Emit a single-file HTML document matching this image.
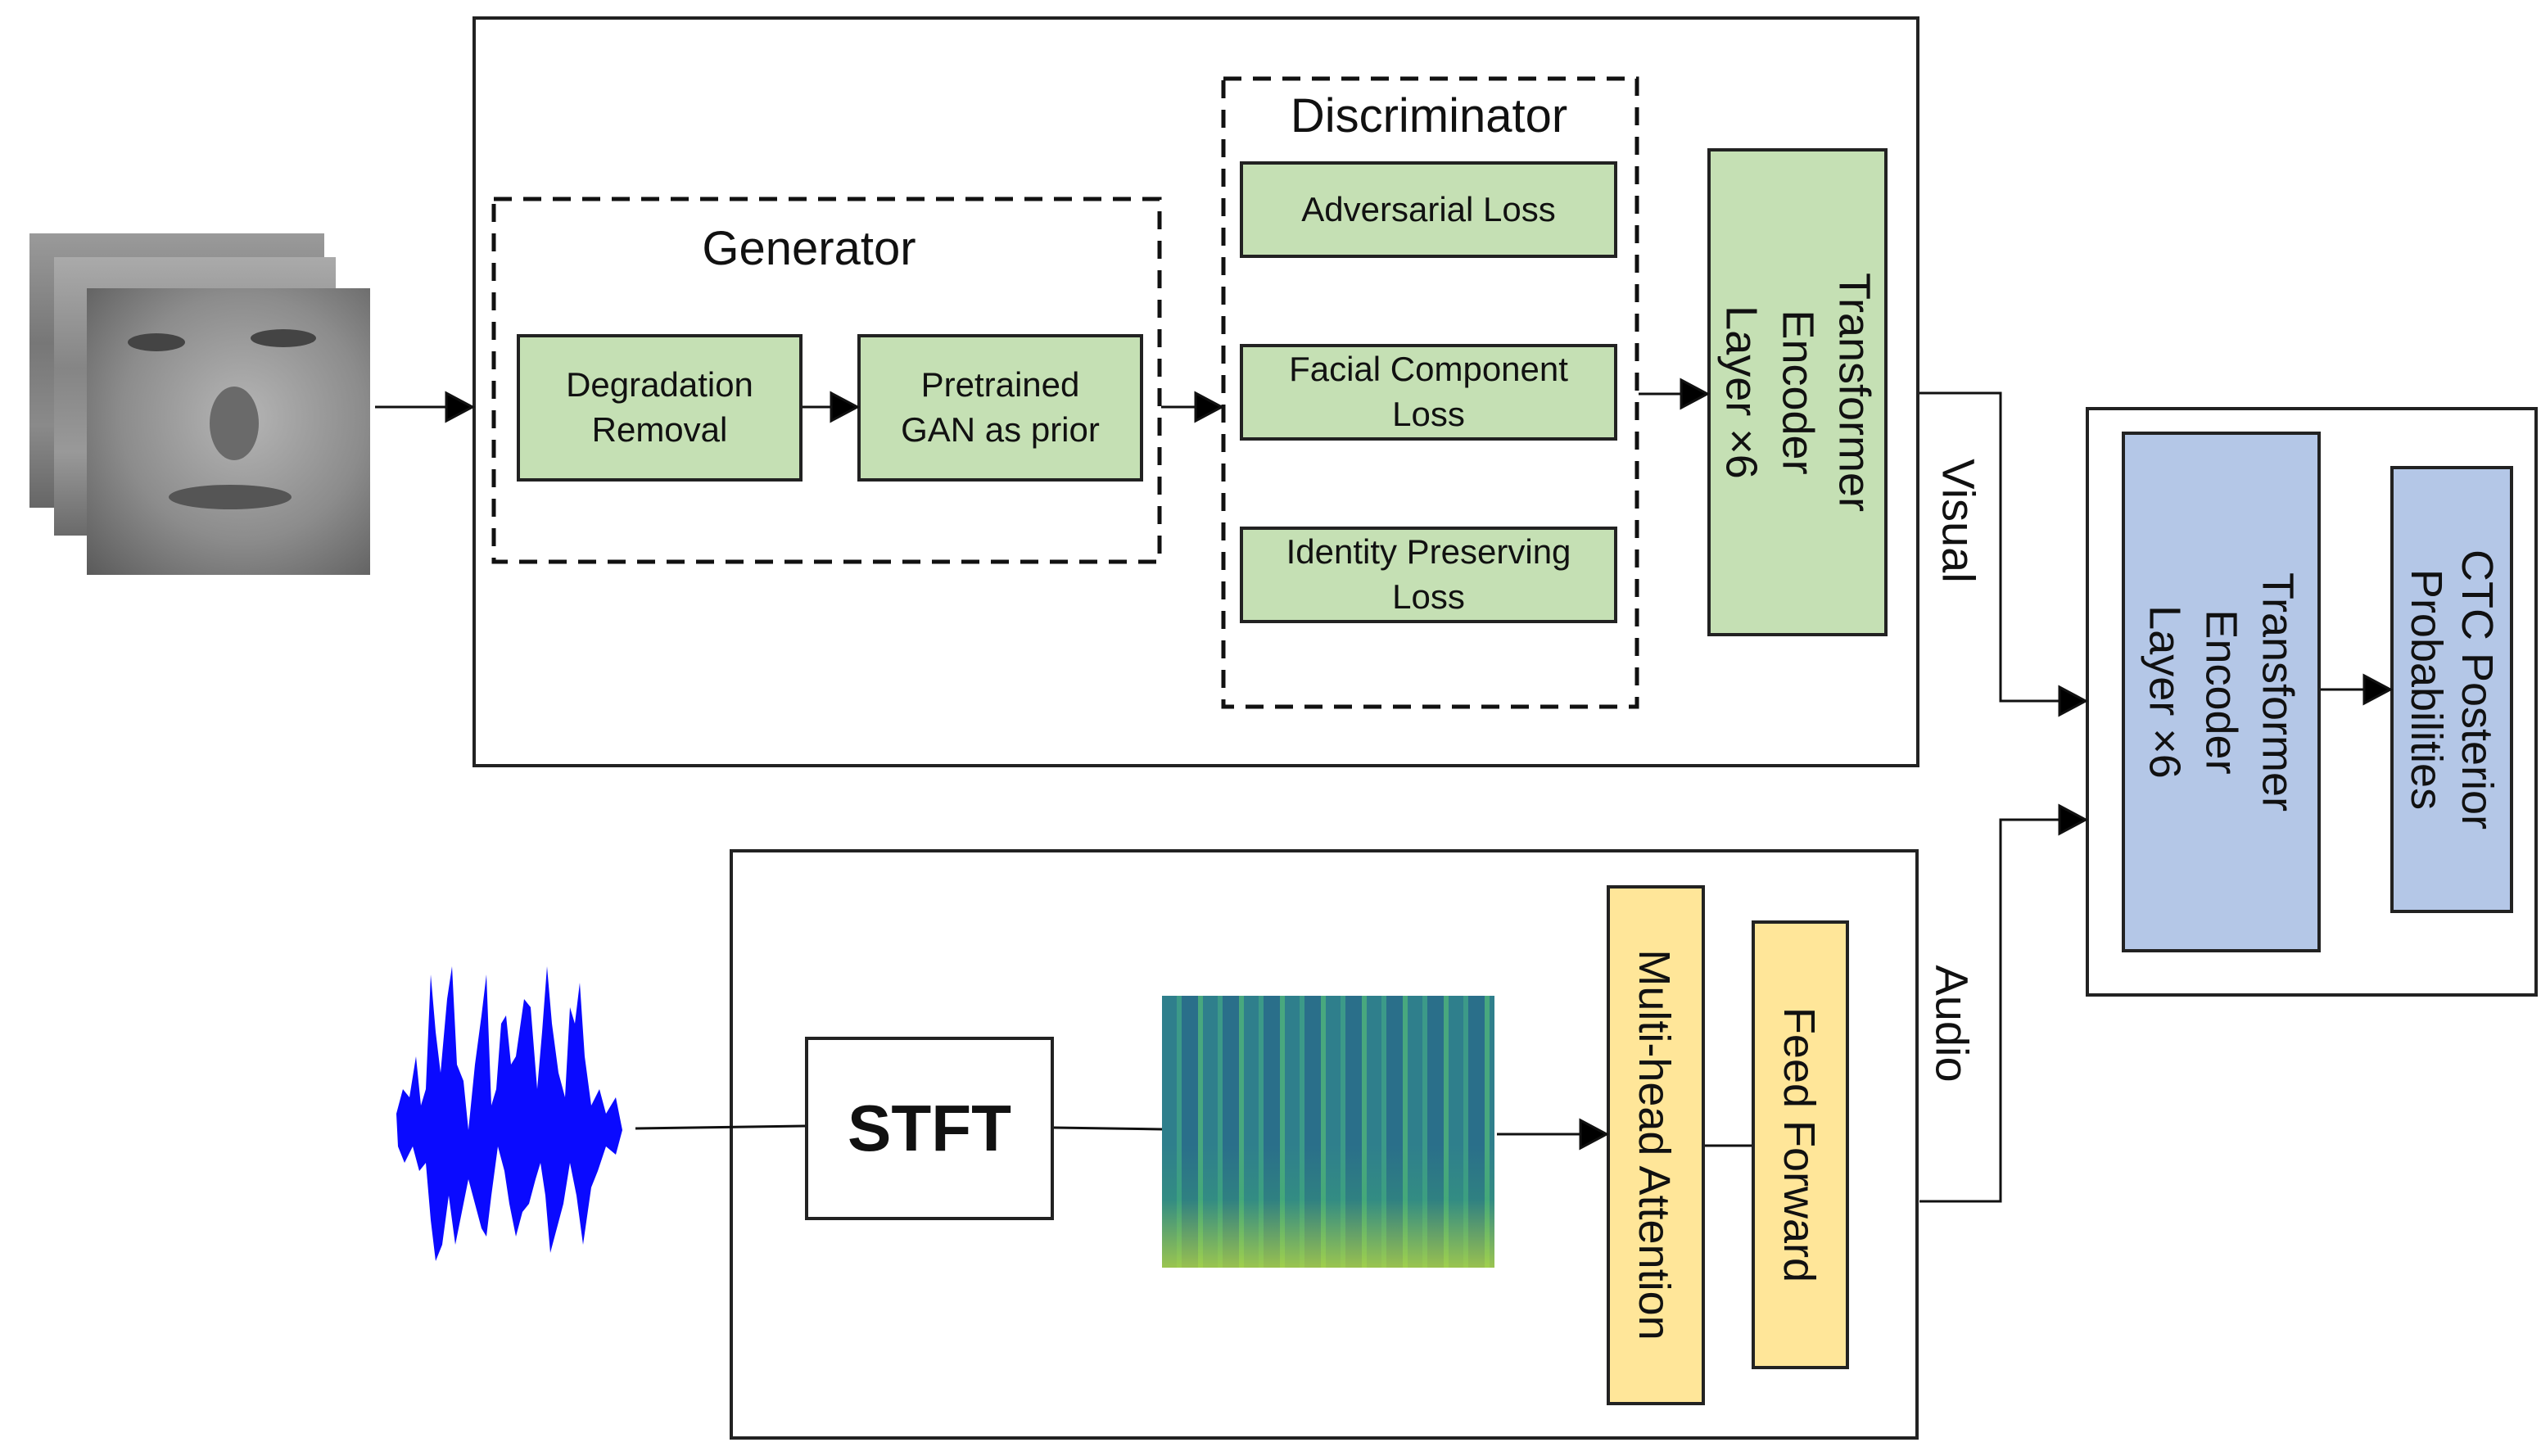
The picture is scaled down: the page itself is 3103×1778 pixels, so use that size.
<!DOCTYPE html>
<html><head><meta charset="utf-8"><style>
body{margin:0;width:3103px;height:1778px;background:#fff;position:relative;overflow:hidden;font-family:"Liberation Sans",sans-serif;color:#111}
.a{position:absolute;box-sizing:border-box}
.g{background:#c5e0b4;border:4px solid #222;display:flex;align-items:center;justify-content:center;text-align:center;font-size:42px;line-height:1.3}
.rot{position:absolute;transform:translate(-50%,-50%) rotate(90deg);white-space:nowrap;text-align:center}
</style></head><body>
<!-- faces -->
<div class="a" style="left:36px;top:285px;width:360px;height:335px;background:linear-gradient(180deg,#9a9a9a,#777 40%,#8a8a8a 70%,#666)"></div>
<div class="a" style="left:66px;top:314px;width:344px;height:340px;background:linear-gradient(180deg,#aaa,#858585 40%,#999 70%,#6a6a6a)"></div>
<div class="a" style="left:106px;top:352px;width:346px;height:350px;background:radial-gradient(ellipse at 55% 45%,#b5b5b5,#8c8c8c 55%,#5a5a5a)">
<div class="a" style="left:50px;top:55px;width:70px;height:22px;border-radius:50%;background:#444"></div>
<div class="a" style="left:200px;top:50px;width:80px;height:22px;border-radius:50%;background:#444"></div>
<div class="a" style="left:150px;top:120px;width:60px;height:90px;border-radius:50%;background:#6a6a6a"></div>
<div class="a" style="left:100px;top:240px;width:150px;height:30px;border-radius:50%;background:#555"></div>
</div>

<!-- visual box -->
<div class="a" style="left:577px;top:20px;width:1767px;height:917px;border:4px solid #222"></div>
<div class="a" style="left:803px;top:270px;width:370px;text-align:center;font-size:58px">Generator</div>
<div class="a g" style="left:631px;top:408px;width:349px;height:180px">Degradation<br>Removal</div>
<div class="a g" style="left:1047px;top:408px;width:349px;height:180px">Pretrained<br>GAN as prior</div>
<div class="a" style="left:1500px;top:108px;width:490px;text-align:center;font-size:58px">Discriminator</div>
<div class="a g" style="left:1514px;top:197px;width:461px;height:118px">Adversarial Loss</div>
<div class="a g" style="left:1514px;top:420px;width:461px;height:118px">Facial Component<br>Loss</div>
<div class="a g" style="left:1514px;top:643px;width:461px;height:118px">Identity Preserving<br>Loss</div>
<div class="a g" style="left:2085px;top:181px;width:220px;height:596px;"></div>
<div class="rot" style="left:2195px;top:479px;font-size:54px;line-height:1.28">Transformer<br>Encoder<br>Layer ×6</div>
<div class="rot" style="left:2392px;top:636px;font-size:56px">Visual</div>

<!-- right box -->
<div class="a" style="left:2547px;top:497px;width:552px;height:720px;border:4px solid #222"></div>
<div class="a g" style="left:2591px;top:527px;width:243px;height:636px;background:#b4c7e7"></div>
<div class="rot" style="left:2712px;top:845px;font-size:54px;line-height:1.28">Transformer<br>Encoder<br>Layer ×6</div>
<div class="a g" style="left:2919px;top:569px;width:150px;height:546px;background:#b4c7e7"></div>
<div class="rot" style="left:2994px;top:842px;font-size:54px;line-height:1.15">CTC Posterior<br>Probabilities</div>

<!-- audio box -->
<div class="a" style="left:891px;top:1037px;width:1452px;height:721px;border:4px solid #222"></div>
<div class="a" style="left:983px;top:1266px;width:304px;height:224px;border:4px solid #222;display:flex;align-items:center;justify-content:center;font-weight:bold;font-size:80px">STFT</div>
<div class="a" style="left:1419px;top:1216px;width:406px;height:332px;background:linear-gradient(0deg,rgba(190,220,60,.75),rgba(60,170,110,.3) 25%,rgba(0,0,0,0) 45%),repeating-linear-gradient(90deg,#2f7f8c 0 18px,#3c9a88 18px 24px,#2a6f8a 24px 44px,#48a87e 44px 50px),#2e7a8c"></div>
<div class="a g" style="left:1962px;top:1081px;width:120px;height:635px;background:#ffe699"></div>
<div class="rot" style="left:2020px;top:1398px;font-size:54px">Multi-head Attention</div>
<div class="a g" style="left:2139px;top:1124px;width:119px;height:548px;background:#ffe699"></div>
<div class="rot" style="left:2197px;top:1398px;font-size:54px">Feed Forward</div>
<div class="rot" style="left:2384px;top:1250px;font-size:56px">Audio</div>

<svg class="a" style="left:0;top:0" width="3103" height="1778">
<g stroke="#111" stroke-width="5" fill="none" stroke-dasharray="22 14">
<rect x="603" y="243" width="813" height="443"/>
<rect x="1494" y="96" width="505" height="767"/>
</g>
<g stroke="#111" stroke-width="3" fill="none">
<line x1="458" y1="497" x2="550" y2="497"/><path d="M545,480L577,497L545,514z" fill="#000"/>
<line x1="980" y1="497" x2="1020" y2="497"/><path d="M1015,480L1047,497L1015,514z" fill="#000"/>
<line x1="1418" y1="497" x2="1465" y2="497"/><path d="M1460,480L1492,497L1460,514z" fill="#000"/>
<line x1="2001" y1="481" x2="2058" y2="481"/><path d="M2053,464L2085,481L2053,498z" fill="#000"/>
<polyline points="2344,480 2443,480 2443,856 2520,856"/><path d="M2515,839L2547,856L2515,873z" fill="#000"/>
<polyline points="2344,1467 2443,1467 2443,1001 2520,1001"/><path d="M2515,984L2547,1001L2515,1018z" fill="#000"/>
<line x1="2834" y1="842" x2="2892" y2="842"/><path d="M2887,825L2919,842L2887,859z" fill="#000"/>
<line x1="776" y1="1378" x2="983" y2="1375"/>
<line x1="1287" y1="1377" x2="1419" y2="1379"/>
<line x1="1828" y1="1385" x2="1935" y2="1385"/><path d="M1930,1368L1962,1385L1930,1402z" fill="#000"/>
<line x1="2082" y1="1399" x2="2139" y2="1399"/>
</g>
<path fill="#0a0aff" d="M484,1360 L492,1330 L500,1340 L508,1290 L514,1350 L520,1330 L526,1190 L532,1260 L538,1310 L546,1220 L552,1180 L558,1300 L566,1320 L572,1380 L580,1300 L588,1240 L594,1190 L600,1350 L606,1330 L612,1250 L618,1240 L624,1300 L630,1290 L640,1220 L648,1230 L656,1330 L662,1260 L668,1180 L674,1250 L682,1310 L690,1340 L696,1230 L702,1250 L708,1200 L714,1290 L722,1350 L732,1330 L740,1360 L752,1340 L760,1380 L752,1410 L740,1400 L730,1430 L722,1450 L712,1520 L704,1460 L696,1420 L688,1470 L680,1500 L672,1530 L666,1460 L660,1420 L654,1440 L646,1470 L638,1480 L630,1510 L622,1470 L616,1430 L608,1400 L600,1460 L594,1510 L588,1500 L580,1470 L572,1440 L564,1480 L556,1520 L548,1460 L540,1520 L532,1540 L526,1490 L520,1420 L512,1430 L504,1400 L494,1420 L486,1400z"/>
</svg>
</body></html>
